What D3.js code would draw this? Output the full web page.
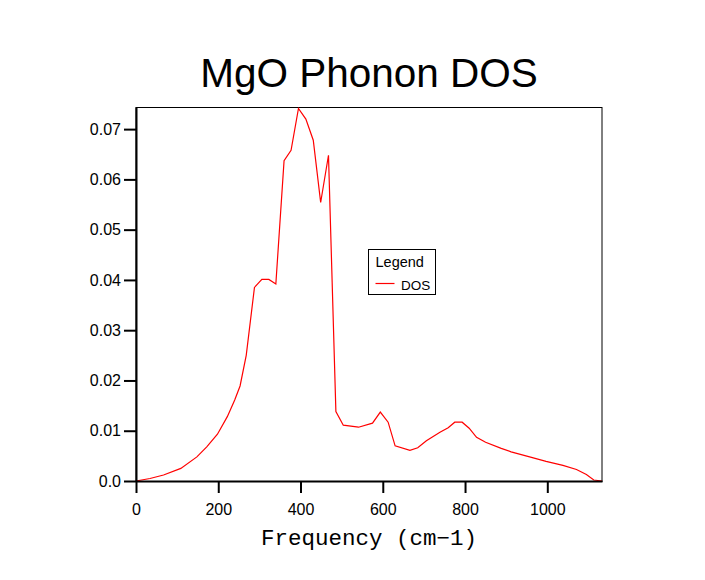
<!DOCTYPE html>
<html>
<head>
<meta charset="utf-8">
<script src="https://cdn.jsdelivr.net/npm/d3@7"></script>
<style>
  body { margin: 0; background: #fff; }
  svg { display: block; }
</style>
</head>
<body>
<div id="chart"></div>
<script>
// Phonon DOS of MgO
const freq = [0, 34, 67, 109, 148, 172, 198, 222, 240, 253, 268, 288, 306, 323, 340,
    360, 377, 395, 413, 431, 449, 468, 486, 504, 541, 575, 594, 613, 630, 666,
    685, 706, 739, 759, 775, 793, 810, 828, 850, 888, 912, 957, 997, 1038,
    1071, 1095, 1113, 1133];
const dos = [0, 0.0005, 0.0012, 0.0025, 0.0048, 0.0068, 0.0093, 0.0128, 0.0161, 0.0189,
    0.0250, 0.0385, 0.0401, 0.0401, 0.0392, 0.0637, 0.0658, 0.0741, 0.0720, 0.0678,
    0.0554, 0.0648, 0.0138, 0.0111, 0.0107, 0.0115, 0.0137, 0.0117, 0.0070, 0.0061,
    0.0066, 0.0080, 0.0097, 0.0106, 0.0117, 0.0117, 0.0105, 0.0087, 0.0077, 0.0065,
    0.0058, 0.0048, 0.0039, 0.0031, 0.0023, 0.0013, 0.0002, 0];
const xTicks = [0, 200, 400, 600, 800, 1000];
const yTicks = [0, 0.01, 0.02, 0.03, 0.04, 0.05, 0.06, 0.07];
const xDomain = [0, 1133];
const yDomain = [0, 0.0744];

const width = 705, height = 580;
const margin = { top: 107, right: 103, bottom: 99, left: 136 };
const innerW = width - margin.left - margin.right;
const innerH = height - margin.top - margin.bottom;

const svg = d3.select('#chart').append('svg')
    .attr('width', width)
    .attr('height', height);

const g = svg.append('g')
    .attr('transform', `translate(${margin.left},${margin.top})`);

const x = d3.scaleLinear().domain(xDomain).range([0, innerW]);
const y = d3.scaleLinear().domain(yDomain).range([innerH, 0]);

// frame (top + right)
g.append('rect')
    .attr('x', 0).attr('y', 0.5)
    .attr('width', innerW).attr('height', innerH)
    .attr('fill', 'none')
    .attr('stroke', '#000')
    .attr('stroke-width', 1);

// line
const points = freq.map((f, i) => [f, dos[i]]);
g.append('path')
    .datum(points)
    .attr('fill', 'none')
    .attr('stroke', '#ff0000')
    .attr('stroke-width', 1.2)
    .attr('d', d3.line().x(d => x(d[0])).y(d => y(d[1])));

// axes
const xAxis = g.append('g')
    .attr('transform', `translate(0,${innerH})`)
    .call(d3.axisBottom(x).tickValues(xTicks).tickSize(12).tickSizeOuter(0).tickPadding(10.5)
        .tickFormat(d3.format('d')));

const yAxis = g.append('g')
    .call(d3.axisLeft(y).tickValues(yTicks).tickSize(12).tickSizeOuter(0).tickPadding(3)
        .tickFormat(d => d === 0 ? '0.0' : d3.format('.2f')(d)));

[xAxis, yAxis].forEach(ax => {
    ax.select('.domain').attr('stroke', '#000').attr('stroke-width', 2);
    ax.selectAll('.tick line').attr('stroke', '#000').attr('stroke-width', 2);
    ax.selectAll('.tick text')
        .attr('fill', '#000')
        .style('font-family', 'Liberation Sans, Arial, sans-serif')
        .style('font-size', '16px');
});

// title
svg.append('text')
    .attr('x', margin.left + innerW / 2)
    .attr('y', 87)
    .attr('text-anchor', 'middle')
    .style('font-family', 'Liberation Sans, Arial, sans-serif')
    .style('font-size', '40.5px')
    .text('MgO Phonon DOS');

// x label
svg.append('text')
    .attr('x', margin.left + innerW / 2)
    .attr('y', 545)
    .attr('text-anchor', 'middle')
    .style('font-family', '"Courier New", "Liberation Mono", monospace')
    .style('font-size', '22.5px')
    .text('Frequency (cm\u22121)');

// legend
const legend = svg.append('g').attr('transform', 'translate(368.5,249.5)');
legend.append('rect')
    .attr('width', 67).attr('height', 45)
    .attr('fill', '#fff')
    .attr('stroke', '#000')
    .attr('stroke-width', 1);
legend.append('text')
    .attr('x', 7).attr('y', 17)
    .style('font-family', 'Liberation Sans, Arial, sans-serif')
    .style('font-size', '14.5px')
    .text('Legend');
legend.append('line')
    .attr('x1', 7).attr('x2', 26)
    .attr('y1', 34).attr('y2', 34)
    .attr('stroke', '#ff0000')
    .attr('stroke-width', 1.2);
legend.append('text')
    .attr('x', 32.5).attr('y', 40)
    .style('font-family', 'Liberation Sans, Arial, sans-serif')
    .style('font-size', '13.5px')
    .text('DOS');
</script>
</body>
</html>
